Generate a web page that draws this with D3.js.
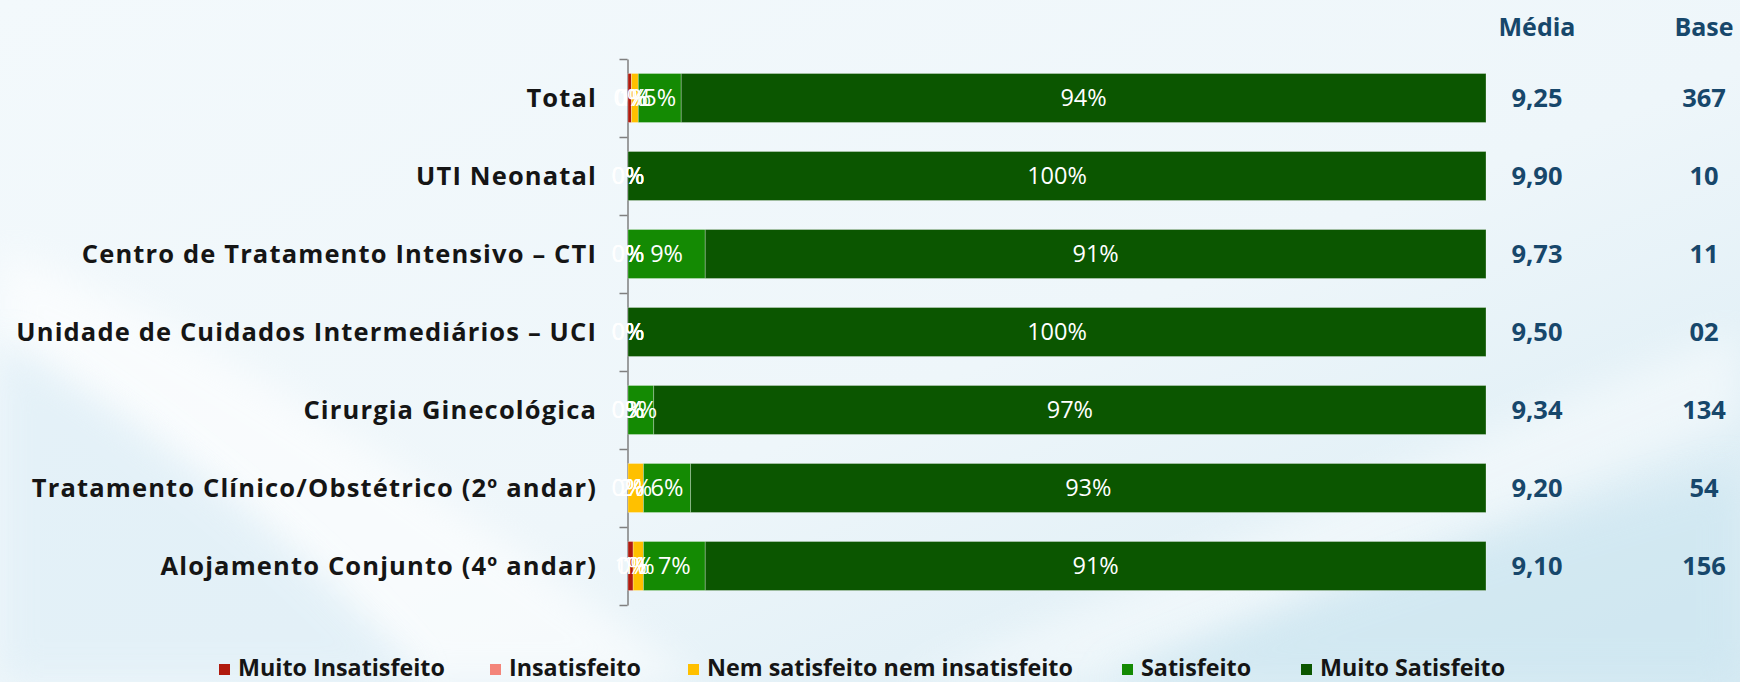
<!DOCTYPE html>
<html>
<head>
<meta charset="utf-8">
<script src="https://cdn.jsdelivr.net/npm/d3@7/dist/d3.min.js"></script>
<style>
  html, body { margin: 0; padding: 0; background: #eff6fa; }
  svg { display: block; }
  text { font-family: "Open Sans", "Noto Sans", sans-serif; }
</style>
</head>
<body>
<svg id="chart" width="1740" height="682"></svg>
<script>
// ---- data ----
const categories = [
  "Total",
  "UTI Neonatal",
  "Centro de Tratamento Intensivo – CTI",
  "Unidade de Cuidados Intermediários – UCI",
  "Cirurgia Ginecológica",
  "Tratamento Clínico/Obstétrico (2º andar)",
  "Alojamento Conjunto (4º andar)"
];
const seriesNames = ["Muito Insatisfeito", "Insatisfeito", "Nem satisfeito nem insatisfeito", "Satisfeito", "Muito Satisfeito"];
const muitoInsatisfeito = [0.4, 0, 0, 0, 0, 0, 0.6];
const insatisfeito      = [0, 0, 0, 0, 0, 0, 0];
const nemSatisfeito     = [0.8, 0, 0, 0, 0, 1.8, 1.2];
const satisfeito        = [5.0, 0, 9.0, 0, 3.0, 5.5, 7.2];
const muitoSatisfeito   = [93.8, 100, 91.0, 100, 97.0, 92.7, 91.0];
const mediaValues = ["9,25", "9,90", "9,73", "9,50", "9,34", "9,20", "9,10"];
const baseValues  = ["367", "10", "11", "02", "134", "54", "156"];
const columnHeaders = ["Média", "Base"];

const seriesColors = ["#b01a0e", "#f4857a", "#ffc000", "#148a03", "#0b5600"];

// ---- build table ----
const seriesArrays = [muitoInsatisfeito, insatisfeito, nemSatisfeito, satisfeito, muitoSatisfeito];
const table = categories.map((c, i) => {
  const row = { category: c };
  seriesNames.forEach((s, k) => row[s] = seriesArrays[k][i]);
  return row;
});

const svg = d3.select("#chart");
const W = 1740, H = 682;

// ---- background ----
const defs = svg.append("defs");
const bg = defs.append("linearGradient").attr("id", "bg").attr("x1", "0").attr("y1", "0").attr("x2", "1").attr("y2", "1");
bg.append("stop").attr("offset", "0").attr("stop-color", "#f3f9fc");
bg.append("stop").attr("offset", "0.55").attr("stop-color", "#eef6fa");
bg.append("stop").attr("offset", "1").attr("stop-color", "#d6eaf3");
svg.append("rect").attr("width", W).attr("height", H).attr("fill", "url(#bg)");
const blur = defs.append("filter").attr("id", "blur").attr("x", "-20%").attr("y", "-20%").attr("width", "140%").attr("height", "140%");
blur.append("feGaussianBlur").attr("stdDeviation", 18);
svg.append("path")
  .attr("d", "M0,250 C200,320 420,480 700,682 L420,682 C300,560 150,430 0,340 Z")
  .attr("fill", "#ffffff").attr("opacity", 0.6).attr("filter", "url(#blur)");
svg.append("path")
  .attr("d", "M0,340 C180,450 320,560 420,682 L0,682 Z")
  .attr("fill", "#e0eff7").attr("opacity", 0.75).attr("filter", "url(#blur)");
svg.append("path")
  .attr("d", "M900,682 C1200,560 1500,420 1740,330 L1740,420 C1500,520 1250,620 1100,682 Z")
  .attr("fill", "#ffffff").attr("opacity", 0.45).attr("filter", "url(#blur)");
svg.append("path")
  .attr("d", "M1100,682 C1300,600 1550,520 1740,470 L1740,682 Z")
  .attr("fill", "#cbe5f0").attr("opacity", 0.6).attr("filter", "url(#blur)");

// ---- scales ----
const y = d3.scaleBand().domain(categories).range([59, 605]).paddingInner(0.372).paddingOuter(0.186);
const x = d3.scaleLinear().domain([0, 100]).range([628, 1486]);
const color = d3.scaleOrdinal().domain(seriesNames).range(seriesColors);

const stack = d3.stack().keys(seriesNames);
const stacked = stack(table);

// ---- axis (ticks between categories) ----
const boundary = d3.scaleLinear().domain([0, categories.length]).range([59, 605]);
const axis = d3.axisLeft(boundary).tickValues(d3.range(0, categories.length + 1)).tickFormat("").tickSize(8).tickSizeOuter(0);
const axG = svg.append("g").attr("transform", "translate(627.5,0)").call(axis);
axG.select(".domain").attr("stroke", "#7f7f7f").attr("stroke-width", 1.5);
axG.selectAll(".tick line").attr("stroke", "#7f7f7f").attr("stroke-width", 1.5);

// ---- category labels ----
svg.append("g").selectAll("text").data(categories).join("text")
  .attr("x", 597)
  .attr("y", d => y(d) + y.bandwidth() / 2)
  .attr("dy", "0.36em")
  .attr("text-anchor", "end")
  .attr("font-size", 25.5)
  .attr("letter-spacing", 1.15)
  .attr("font-weight", 700)
  .attr("fill", "#151515")
  .text(d => d);

// ---- bars ----
const layers = svg.append("g").selectAll("g").data(stacked).join("g")
  .attr("fill", d => color(d.key));
layers.selectAll("rect").data(d => d).join("rect")
  .attr("x", d => x(d[0]))
  .attr("y", d => y(d.data.category))
  .attr("width", d => x(d[1]) - x(d[0]))
  .attr("height", y.bandwidth())
  .attr("stroke", "rgba(255,255,255,0.35)")
  .attr("stroke-width", 0.8);

// ---- segment labels ----
const labelG = svg.append("g");
stacked.forEach(layer => {
  labelG.selectAll(null).data(layer).join("text")
    .attr("x", d => x((d[0] + d[1]) / 2))
    .attr("y", d => y(d.data.category) + y.bandwidth() / 2)
    .attr("dy", "0.36em")
    .attr("text-anchor", "middle")
    .attr("font-size", 23.5)
    .attr("fill", "#ffffff")
    .text(d => Math.round(d[1] - d[0]) + "%");
});

// ---- right columns ----
const colX = [1537, 1704];
svg.append("g").selectAll("text").data(columnHeaders).join("text")
  .attr("x", (d, i) => colX[i])
  .attr("y", 27)
  .attr("dy", "0.36em")
  .attr("text-anchor", "middle")
  .attr("font-size", 25)
  .attr("font-weight", 700)
  .attr("fill", "#17476b")
  .text(d => d);
[mediaValues, baseValues].forEach((vals, k) => {
  svg.append("g").selectAll("text").data(vals).join("text")
    .attr("x", colX[k])
    .attr("y", (d, i) => y(categories[i]) + y.bandwidth() / 2)
    .attr("dy", "0.36em")
    .attr("text-anchor", "middle")
    .attr("font-size", 25.5)
    .attr("font-weight", 700)
    .attr("fill", "#17476b")
    .text(d => d);
});

// ---- legend ----
const legendX = [219, 490, 688, 1122, 1301];
const leg = svg.append("g").selectAll("g").data(seriesNames).join("g")
  .attr("transform", (d, i) => `translate(${legendX[i]},664)`);
leg.append("rect").attr("width", 11).attr("height", 11).attr("fill", d => color(d));
leg.append("text")
  .attr("x", 19).attr("y", 12)
  .attr("font-size", 23.3)
  .attr("font-weight", 700)
  .attr("fill", "#151515")
  .text(d => d);
</script>
</body>
</html>
